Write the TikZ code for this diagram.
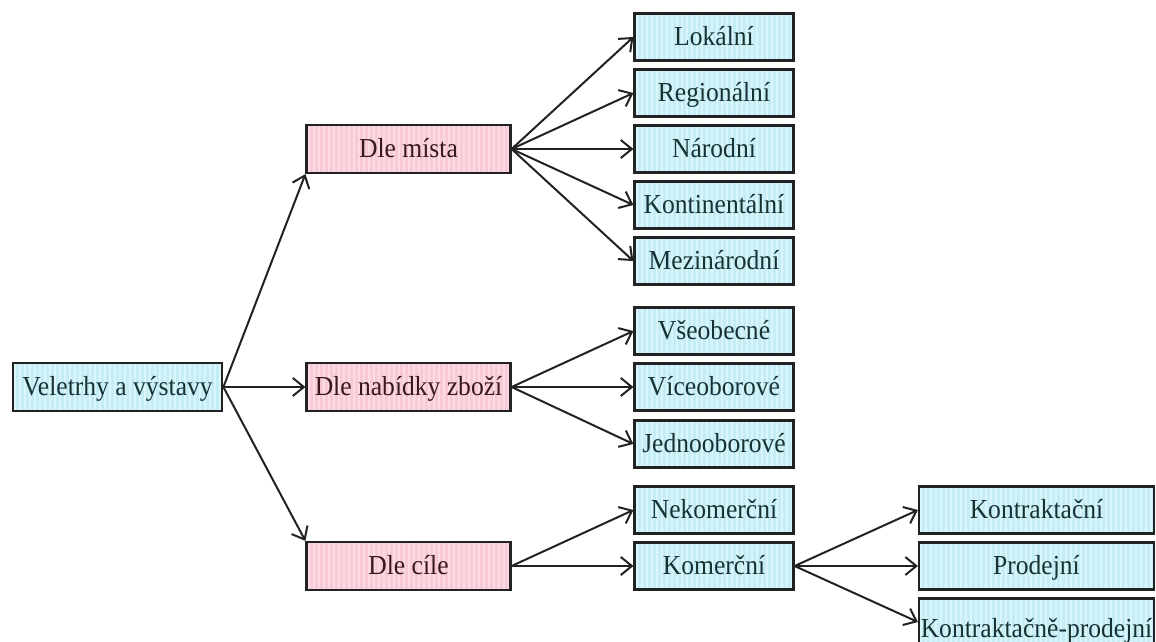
\documentclass[tikz,border=0pt]{standalone}
\usepackage{fontspec}
\setmainfont[FakeStretch=0.93]{Liberation Serif}
\usetikzlibrary{arrows.meta}

\definecolor{cyanfill}{HTML}{C4EDF5}
\definecolor{cyanstripe}{HTML}{DAF6FB}
\definecolor{pinkfill}{HTML}{F8CAD6}
\definecolor{pinkstripe}{HTML}{FCDCE4}
\definecolor{cyantext}{HTML}{183234}
\definecolor{pinktext}{HTML}{381820}
\definecolor{edge}{HTML}{222222}

\tikzset{
  box/.style={draw=edge, line width=2.2pt, inner sep=0pt, minimum height=47pt,
    font=\fontsize{27.5}{32}\selectfont, text height=19pt, text depth=3pt,
    anchor=center},
  stripes/.style={path picture={
    \foreach \i in {2,7,...,320}{
      \draw[#1, line width=2pt]
        ([xshift=\i pt]path picture bounding box.south west) --
        ([xshift=\i pt]path picture bounding box.north west);}}},
  bluebox/.style={box, fill=cyanfill, stripes=cyanstripe, text=cyantext},
  pinkbox/.style={box, fill=pinkfill, stripes=pinkstripe, text=pinktext},
  rootbox/.style={bluebox, line width=2.8pt, minimum width=209pt, minimum height=48pt},
  midbox/.style={pinkbox, minimum width=204pt, minimum height=48pt},
  leafbox/.style={bluebox, minimum width=159pt},
  wideleaf/.style={bluebox, minimum width=235pt},
  arr/.style={-{Straight Barb[length=11pt,width=18pt,line width=2pt]},
    line width=2pt, draw=edge}
}

\begin{document}
\begin{tikzpicture}[x=1pt, y=-1pt]
  \useasboundingbox (0,0) rectangle (1156,641);

  % root
  \node[rootbox] (root) at (117.5,387) {Veletrhy a výstavy};

  % first level
  \node[midbox] (misto)   at (408.5,149) {Dle místa};
  \node[midbox] (nabidka) at (408.5,387) {Dle nabídky zboží};
  \node[midbox] (cil)     at (408.5,566) {Dle cíle};

  % by place
  \node[leafbox] (lok) at (714,37)  {Lokální};
  \node[leafbox] (reg) at (714,93)  {Regionální};
  \node[leafbox] (nar) at (714,149) {Národní};
  \node[leafbox] (kon) at (714,205) {Kontinentální};
  \node[leafbox] (mez) at (714,261) {Mezinárodní};

  % by range of goods
  \node[leafbox] (vse)  at (714,331) {Všeobecné};
  \node[leafbox] (vice) at (714,387) {Víceoborové};
  \node[leafbox] (jedn) at (714,444) {Jednooborové};

  % by purpose
  \node[leafbox] (nekom) at (714,510) {Nekomerční};
  \node[leafbox] (kom)   at (714,566) {Komerční};

  % commercial subtypes
  \node[wideleaf] (kontr) at (1036.5,510) {Kontraktační};
  \node[wideleaf] (prod)  at (1036.5,566) {Prodejní};
  \node[wideleaf, text height=30pt, text depth=0pt] (kp) at (1036.5,622)
    {Kontraktačně-prodejní};

  % connectors
  \draw[arr] (root.east) -- (misto.south west);
  \draw[arr] (root.east) -- (nabidka.west);
  \draw[arr] (root.east) -- (cil.north west);

  \foreach \t in {lok,reg,nar,kon,mez}
    \draw[arr] (misto.east) -- (\t.west);
  \foreach \t in {vse,vice,jedn}
    \draw[arr] (nabidka.east) -- (\t.west);
  \foreach \t in {nekom,kom}
    \draw[arr] (cil.east) -- (\t.west);
  \foreach \t in {kontr,prod,kp}
    \draw[arr] (kom.east) -- (\t.west);
\end{tikzpicture}
\end{document}
